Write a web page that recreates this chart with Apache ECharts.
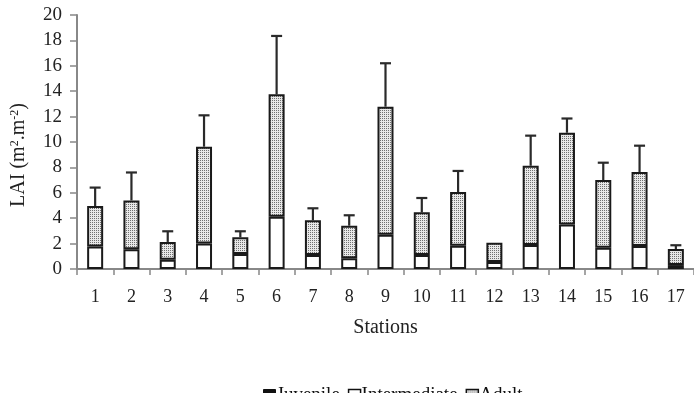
<!DOCTYPE html>
<html><head><meta charset="utf-8">
<script src="https://cdn.jsdelivr.net/npm/echarts@6/dist/echarts.min.js"></script>
<style>html,body{margin:0;padding:0;background:#fff}#c{width:694px;height:393px}</style>
</head><body><div id="c"></div>
<script>
var stations = ['1','2','3','4','5','6','7','8','9','10','11','12','13','14','15','16','17'];
var juvenile = [0,0,0,0,0,0,0,0,0,0,0,0,0,0,0,0,0];
var intermediate = [1.78,1.55,0.73,2.0,1.18,4.12,1.1,0.84,2.7,1.1,1.84,0.55,1.89,3.5,1.68,1.81,0.31];
var adult = [3.18,3.85,1.4,7.63,1.32,9.63,2.73,2.57,10.08,3.36,4.22,1.52,6.24,7.23,5.32,5.83,1.26];
var errorUp = [1.45,2.2,0.84,2.47,0.47,4.6,0.95,0.82,3.42,1.13,1.66,0,2.37,1.12,1.37,2.07,0.3];
var yTicks = [0,2,4,6,8,10,12,14,16,18,20];

var pc = document.createElement('canvas');
pc.width = 2; pc.height = 2;
var g = pc.getContext('2d');
g.fillStyle = '#e8e8e8'; g.fillRect(0,0,2,2);
g.fillStyle = '#707070'; g.fillRect(0,0,1,1);
var dots = {image: pc, repeat: 'repeat'};

var totals = stations.map(function(_, i){ return juvenile[i] + intermediate[i] + adult[i]; });
var errData = stations.map(function(_, i){ return [i, totals[i], totals[i] + errorUp[i]]; });

var font = '"Liberation Serif", "DejaVu Serif", serif';
var chart = echarts.init(document.getElementById('c'), null, {renderer: 'canvas'});
chart.setOption({
  animation: false,
  textStyle: {fontFamily: font},
  grid: {left: 77, top: 15, width: 629, height: 254, containLabel: false},
  graphic: [{
    type: 'text', x: 19, y: 155, rotation: Math.PI / 2, z: 10,
    style: {
      text: 'LAI (m{sup|2}.m{sup|-2})',
      x: 0, y: 0, align: 'center', verticalAlign: 'middle',
      font: '20px "Liberation Serif", serif', fill: '#222',
      rich: {sup: {fontSize: 12, fontFamily: font, fill: '#222', verticalAlign: 'top', padding: [0,0,9,0]}}
    }
  }],
  legend: {
    top: 381, left: 258,
    itemWidth: 12, itemHeight: 12, itemGap: 8,
    textStyle: {fontFamily: font, fontSize: 19, color: '#111', padding: [0,0,0,-4]},
    data: [
      {name: 'Juvenile', icon: 'rect', itemStyle: {color: '#111', borderColor: '#111', borderWidth: 1}},
      {name: 'Intermediate', icon: 'rect', itemStyle: {color: '#fff', borderColor: '#111', borderWidth: 1.5}},
      {name: 'Adult', icon: 'rect', itemStyle: {color: dots, borderColor: '#111', borderWidth: 1.5}}
    ]
  },
  xAxis: {
    type: 'category', data: stations,
    name: 'Stations', nameLocation: 'middle', nameGap: 49,
    nameTextStyle: {fontFamily: font, fontSize: 20, color: '#222', padding: [0,0,0,0]},
    axisLine: {lineStyle: {color: '#888', width: 2}},
    axisTick: {show: true, alignWithLabel: false, length: 6, lineStyle: {color: '#888', width: 1.5}},
    axisLabel: {fontFamily: font, fontSize: 18, color: '#222', margin: 19}
  },
  yAxis: {
    type: 'value', min: 0, max: 20, interval: 2,
    axisLine: {show: true, lineStyle: {color: '#888', width: 2}},
    axisTick: {show: true, length: 7, lineStyle: {color: '#888', width: 1.5}},
    splitLine: {show: false},
    axisLabel: {fontFamily: font, fontSize: 19, color: '#222', margin: 15,
      formatter: function(v){ return yTicks.indexOf(v) >= 0 ? String(v) : ''; }}
  },
  series: [
    {name: 'Juvenile', type: 'bar', stack: 's', barWidth: 16, data: juvenile,
     itemStyle: {color: '#111', borderWidth: 0}},
    {name: 'Intermediate', type: 'bar', stack: 's', barWidth: 16, data: intermediate,
     itemStyle: {color: '#fff', borderColor: '#1a1a1a', borderWidth: 2}},
    {name: 'Adult', type: 'bar', stack: 's', barWidth: 16, data: adult,
     itemStyle: {color: dots, borderColor: '#1a1a1a', borderWidth: 2}},
    {name: 'err', type: 'custom', data: errData, z: 1,
     renderItem: function(params, api){
       var x = api.value(0);
       var lo = api.coord([x, api.value(1)]);
       var hi = api.coord([x, api.value(2)]);
       if (hi[1] >= lo[1] - 0.5) return null;
       var st = {stroke: '#2a2a2a', lineWidth: 2.2};
       return {type: 'group', children: [
         {type: 'line', shape: {x1: lo[0], y1: lo[1], x2: hi[0], y2: hi[1]}, style: st},
         {type: 'line', shape: {x1: hi[0]-5.5, y1: hi[1], x2: hi[0]+5.5, y2: hi[1]}, style: st}
       ]};
     }}
  ]
});
</script></body></html>
